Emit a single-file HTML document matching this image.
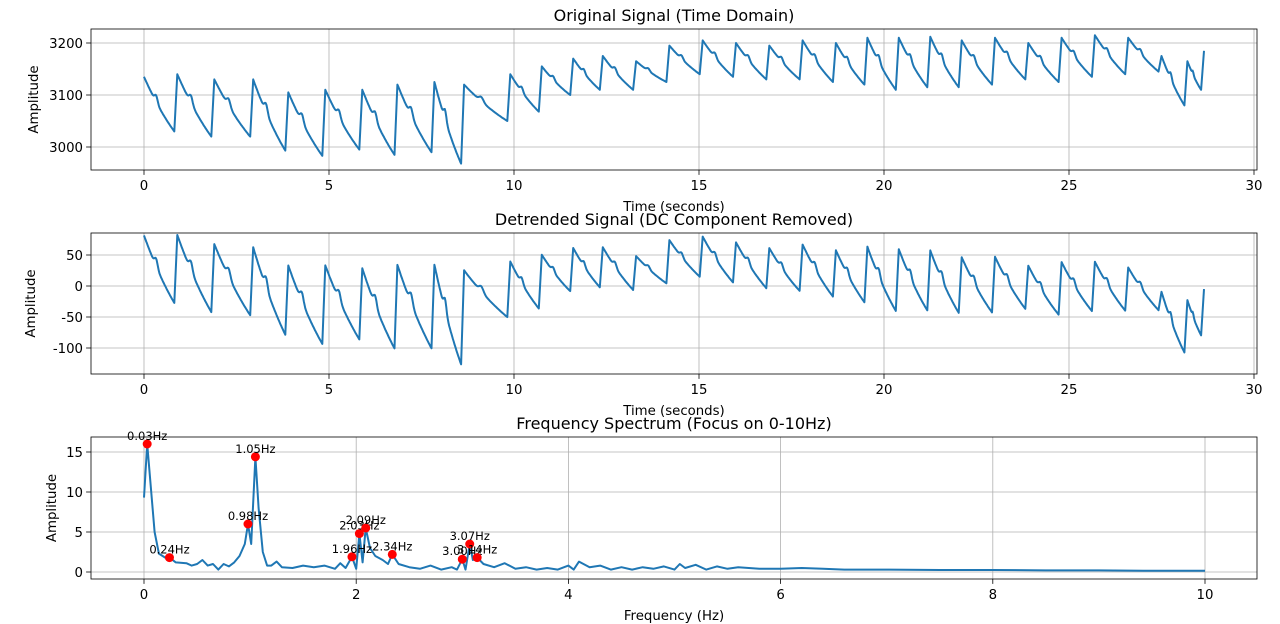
<!DOCTYPE html>
<html><head><meta charset="utf-8"><style>
body{margin:0;background:#fff;}
svg{display:block;font-family:"DejaVu Sans","Liberation Sans",sans-serif;}
</style></head><body>
<svg id="chart" width="1280" height="624" xmlns="http://www.w3.org/2000/svg"></svg>
<script>
// ---- Data: original signal described per heartbeat ----
const beatTimes = [0,0.9,1.9,2.95,3.9,4.9,5.9,6.85,7.85,8.65,9.9,10.75,11.6,12.4,13.3,14.2,15.1,16.0,16.9,17.8,18.7,19.55,20.4,21.25,22.1,23.0,23.9,24.8,25.7,26.6,27.5,28.2];
const peakValues = [3135,3140,3130,3130,3105,3110,3110,3120,3125,3120,3140,3155,3170,3175,3165,3195,3205,3200,3195,3205,3200,3210,3210,3212,3205,3210,3200,3210,3215,3210,3175,3165];
const troughValues = [3030,3020,3020,2993,2983,2995,2985,2990,2968,3050,3068,3100,3110,3110,3125,3140,3135,3130,3130,3125,3120,3110,3115,3115,3120,3130,3125,3135,3140,3145,3080,3110];
const endTime = [28.65];
const endValue = [3185];
// ---- Spectrum ----
const specFreq = [0,0.03,0.1,0.14,0.2,0.24,0.3,0.4,0.45,0.5,0.55,0.6,0.65,0.7,0.75,0.8,0.85,0.9,0.95,0.98,1.01,1.05,1.08,1.12,1.16,1.2,1.25,1.3,1.4,1.5,1.6,1.7,1.8,1.85,1.9,1.96,2.0,2.03,2.06,2.09,2.13,2.18,2.25,2.3,2.34,2.4,2.5,2.6,2.7,2.8,2.9,2.95,3.0,3.03,3.07,3.1,3.14,3.2,3.3,3.4,3.5,3.6,3.7,3.8,3.9,4.0,4.05,4.1,4.2,4.3,4.4,4.5,4.6,4.7,4.8,4.9,5.0,5.05,5.1,5.2,5.3,5.4,5.5,5.6,5.8,6.0,6.2,6.4,6.6,7,7.5,8,8.5,9,9.5,10];
const specAmp = [9.3,16,5,2.3,1.8,1.8,1.2,1.1,0.8,1.0,1.5,0.8,1.0,0.3,1.0,0.7,1.2,2.0,3.5,6,3.5,14.4,8,2.5,0.8,0.8,1.3,0.6,0.5,0.8,0.6,0.8,0.4,1.1,0.5,1.9,0.4,4.8,1.2,5.5,3,2,1.5,1.0,2.2,1.0,0.6,0.4,0.8,0.3,0.6,0.3,1.6,0.3,3.5,1.5,1.8,1.0,0.6,1.1,0.4,0.6,0.3,0.5,0.3,0.8,0.3,1.3,0.6,0.8,0.3,0.6,0.3,0.6,0.4,0.7,0.3,1.0,0.5,0.9,0.3,0.7,0.4,0.6,0.4,0.4,0.5,0.4,0.3,0.3,0.25,0.25,0.2,0.2,0.15,0.15];
const peakFreq = [0.03,0.24,0.98,1.05,1.96,2.03,2.09,2.34,3.00,3.07,3.14];
const peakAmp = [16,1.8,6,14.4,1.9,4.8,5.5,2.2,1.6,3.5,1.8];
const peakLabels = ["0.03Hz","0.24Hz","0.98Hz","1.05Hz","1.96Hz","2.03Hz","2.09Hz","2.34Hz","3.00Hz","3.07Hz","3.14Hz"];
const timeTicks = [0,5,10,15,20,25,30];
const origTicks = [3000,3100,3200];
const detTicks = [-100,-50,0,50];
const freqTicks = [0,2,4,6,8,10];
const ampTicks = [0,5,10,15];

const svg = document.getElementById('chart');
const NS = 'http://www.w3.org/2000/svg';
function mk(tag, attrs, parent){const e=document.createElementNS(NS,tag);for(const k in attrs)e.setAttribute(k,attrs[k]);(parent||svg).appendChild(e);return e;}

const ts=[], vs=[];
for(let i=0;i<beatTimes.length;i++){
  const t0=beatTimes[i], p=peakValues[i], v=troughValues[i];
  const t1 = i+1<beatTimes.length?beatTimes[i+1]:endTime[0];
  const tf = t1-0.08;
  for(let t=t0;t<tf;t+=0.02){
    const s=(t-t0)/(tf-t0);
    let y=v+(p-v)*(1-s)*(1-0.25*s);
    y += (p-v)*0.12*Math.exp(-Math.pow((s-0.4)/0.07,2));
    ts.push(t); vs.push(y);
  }
  ts.push(tf); vs.push(v);
}
ts.push(endTime[0]); vs.push(endValue[0]);
const n=ts.length; let mt=0,mv=0; for(let i=0;i<n;i++){mt+=ts[i];mv+=vs[i];} mt/=n; mv/=n;
let sxy=0,sxx=0; for(let i=0;i<n;i++){sxy+=(ts[i]-mt)*(vs[i]-mv);sxx+=(ts[i]-mt)**2;}
const slope=sxy/sxx;
const det=vs.map((v,i)=>v-(mv+slope*(ts[i]-mt)));

function axes(cfg){
  const g=mk('g',{});
  
  
  const {L,R,T,B}=cfg;
  const xs=x=>cfg.x0p+(x-cfg.x0)*(cfg.x1p-cfg.x0p)/(cfg.x1-cfg.x0);
  const ys=y=>cfg.y0p+(y-cfg.y0)*(cfg.y1p-cfg.y0p)/(cfg.y1-cfg.y0);
  cfg.xt.forEach(t=>{const x=xs(t);
    mk('line',{x1:x,x2:x,y1:T,y2:B,stroke:'#b0b0b0','stroke-width':0.8},g);
    mk('line',{x1:x,x2:x,y1:B,y2:B+4.9,stroke:'#000','stroke-width':0.8},g);
    const tx=mk('text',{x:x,y:B+20,'font-size':13.3,'text-anchor':'middle'},g);tx.textContent=t;});
  cfg.yt.forEach(t=>{const y=ys(t);
    mk('line',{x1:L,x2:R,y1:y,y2:y,stroke:'#b0b0b0','stroke-width':0.8},g);
    mk('line',{x1:L-4.9,x2:L,y1:y,y2:y,stroke:'#000','stroke-width':0.8},g);
    const tx=mk('text',{x:L-8,y:y+5,'font-size':13.3,'text-anchor':'end'},g);tx.textContent=t;});
  const pl=mk('polyline',{points:cfg.px.map((x,i)=>xs(x).toFixed(1)+','+ys(cfg.py[i]).toFixed(1)).join(' '),fill:'none',stroke:'#1f77b4','stroke-width':2,'stroke-linejoin':'round'},g);
  
  
  mk('rect',{x:L,y:T,width:R-L,height:B-T,fill:'none',stroke:'#000','stroke-width':0.8},g);
  const ti=mk('text',{x:(L+R)/2,y:T-8,'font-size':16,'text-anchor':'middle'},g);ti.textContent=cfg.title;
   
  const xl=mk('text',{x:(L+R)/2,y:B+41,'font-size':13.3,'text-anchor':'middle'},g);xl.textContent=cfg.xlabel;
  const yl=mk('text',{x:cfg.ylx,y:(T+B)/2,'font-size':13.3,'text-anchor':'middle',transform:`rotate(-90 ${cfg.ylx} ${(T+B)/2})`},g);yl.textContent='Amplitude';
  return {g,xs,ys};
}
axes({name:'original-signal-plot',L:91,R:1257,T:29,B:170,x0:0,x1:30,x0p:144,x1p:1254,y0:3000,y1:3200,y0p:147,y1p:43,xt:timeTicks,yt:origTicks,px:ts,py:vs,title:'Original Signal (Time Domain)',xlabel:'Time (seconds)',ylx:38});
axes({name:'detrended-signal-plot',L:91,R:1257,T:233,B:374,x0:0,x1:30,x0p:144,x1p:1254,y0:0,y1:50,y0p:286,y1p:255,xt:timeTicks,yt:detTicks,px:ts,py:det,title:'Detrended Signal (DC Component Removed)',xlabel:'Time (seconds)',ylx:35});
const sp=axes({name:'frequency-spectrum-plot',L:91,R:1257,T:437,B:579,x0:0,x1:10,x0p:144,x1p:1205,y0:0,y1:15,y0p:572,y1p:452,xt:freqTicks,yt:ampTicks,px:specFreq,py:specAmp,title:'Frequency Spectrum (Focus on 0-10Hz)',xlabel:'Frequency (Hz)',ylx:56});
peakFreq.forEach((f,i)=>{
  const c=mk('circle',{cx:sp.xs(f),cy:sp.ys(peakAmp[i]),r:4.5,fill:'#ff0000'},sp.g);
  
  
  const t=mk('text',{x:sp.xs(f),y:sp.ys(peakAmp[i])-4,'font-size':11.5,'text-anchor':'middle'},sp.g);
  t.textContent=peakLabels[i];
  
  
});
</script>
</body></html>
